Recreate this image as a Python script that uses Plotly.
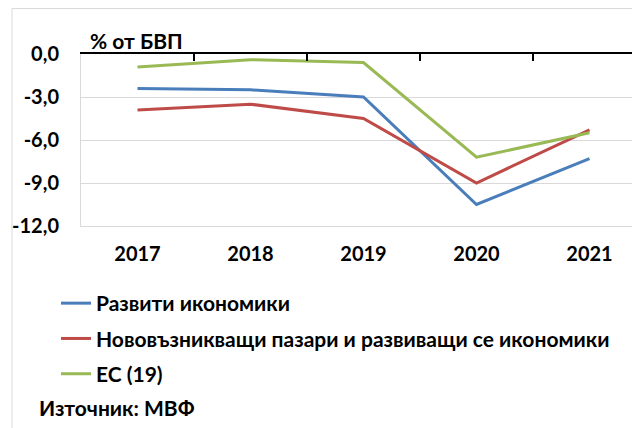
import plotly.graph_objects as go

# ---- data ----
years = ["2017", "2018", "2019", "2020", "2021"]
advanced = [-2.4, -2.5, -3.0, -10.5, -7.3]
emerging = [-3.9, -3.5, -4.5, -9.0, -5.3]
euro19 = [-0.9, -0.4, -0.6, -7.2, -5.5]
series_names = ["Развити икономики",
                "Нововъзникващи пазари и развиващи се икономики",
                "ЕС (19)"]
y_tick_values = [0, -3, -6, -9, -12]
y_tick_labels = ["0,0", "-3,0", "-6,0", "-9,0", "-12,0"]
boundary_ticks = [-0.5, 0.5, 1.5, 2.5, 3.5, 4.5]
unit_label = "% от БВП"
source_label = "Източник: МВФ"

# ---- layout constants (figure pixel coords) ----
W, H = 640, 428
ML, MR, MT, MB = 73, 0, 46, 210
PW, PH = W - ML - MR, H - MT - MB
CAT_PX = 113
FONT = "Lato"
TICK_FS = 20
TEXT_FS = 21
colors = ["#4A7EBB", "#BE4B48", "#98B954"]


def px_x(p):
    return (p - ML) / PW


def px_y(p):
    return (H - MB - p) / PH


xr = [-0.5, -0.5 + PW / CAT_PX]

fig = go.Figure()
for i, (name, vals) in enumerate(zip(series_names, [advanced, emerging, euro19])):
    fig.add_trace(go.Scatter(
        x=years, y=vals, name=name, mode="lines",
        line=dict(color=colors[i], width=3),
        legendgroup=f"g{i}", cliponaxis=False,
    ))

fig.update_layout(
    width=W, height=H,
    margin=dict(l=ML, r=MR, t=MT, b=MB, pad=0),
    paper_bgcolor="white", plot_bgcolor="white",
    font=dict(family=FONT, size=TEXT_FS, color="black", weight=700),
    showlegend=True,
    legend=dict(
        x=px_x(48), y=px_y(275), xanchor="left", yanchor="top",
        orientation="v", tracegroupgap=5, bgcolor="rgba(0,0,0,0)",
        font=dict(family=FONT, size=TEXT_FS, color="black", weight=700),
        itemwidth=30,
    ),
    xaxis=dict(
        type="category", range=xr, showgrid=False, zeroline=False,
        showline=True, linecolor="#D9D9D9", linewidth=1,
        ticks="", ticklabelstandoff=10,
        tickfont=dict(family=FONT, size=TICK_FS, weight=700),
    ),
    xaxis2=dict(
        overlaying="x", anchor="y", side="top", type="linear", range=xr,
        showgrid=False, zeroline=False, showline=True,
        linecolor="black", linewidth=1.5,
        tickvals=boundary_ticks, ticks="inside", ticklen=7,
        tickcolor="black", tickwidth=1.5, showticklabels=False,
    ),
    yaxis=dict(
        range=[-12, 0], tickvals=y_tick_values, ticktext=y_tick_labels,
        showgrid=True, gridcolor="#D9D9D9", gridwidth=1, zeroline=False,
        showline=True, linecolor="#D9D9D9", linewidth=1,
        ticks="", ticklabelstandoff=17,
        tickfont=dict(family=FONT, size=TICK_FS, weight=700),
    ),
    shapes=[dict(
        type="rect", xref="paper", yref="paper", layer="below",
        x0=px_x(4), x1=px_x(W + 20), y0=px_y(H + 20), y1=px_y(0.5),
        line=dict(color="#D9D9D9", width=1), fillcolor="rgba(0,0,0,0)",
    )],
    annotations=[
        dict(text=unit_label, xref="paper", yref="paper",
             x=px_x(80), y=px_y(32), xanchor="left", yanchor="middle",
             showarrow=False, font=dict(family=FONT, size=TEXT_FS, weight=700)),
        dict(text=source_label, xref="paper", yref="paper",
             x=px_x(29), y=px_y(399), xanchor="left", yanchor="middle",
             showarrow=False, font=dict(family=FONT, size=TEXT_FS, weight=700)),
    ],
)
# invisible trace so the top axis subplot is created
fig.add_trace(go.Scatter(x=[0], y=[0], xaxis="x2", mode="markers",
                         marker=dict(opacity=0), showlegend=False,
                         hoverinfo="skip"))

fig.write_html("out.html")
